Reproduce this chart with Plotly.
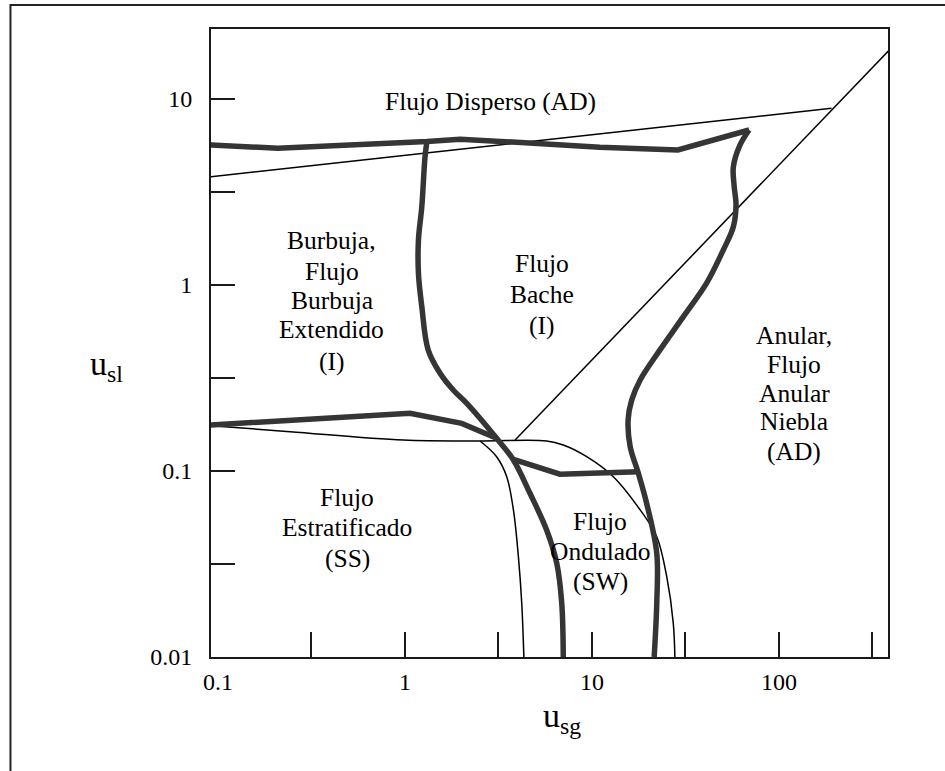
import numpy as np
import plotly.graph_objects as go

# ---------------- data (u_sg, u_sl) ----------------
# thick boundaries
top_x = [0.0914, 0.209, 1.31, 1.97, 3.96, 11.0, 28.8, 69.2]
top_y = [5.64, 5.42, 5.88, 6.05, 5.83, 5.48, 5.30, 6.79]

annular_x = [69.2, 61.9, 57.0, 57.5, 58.9, 57.0, 50.4, 41.0, 30.8, 23.1, 18.1,
             16.3, 15.6, 16.0, 17.7, 19.6, 22.2, 22.2, 21.5]
annular_y = [6.79, 5.64, 4.30, 3.43, 2.685, 2.05, 1.54, 1.02, 0.674, 0.447, 0.308,
             0.240, 0.188, 0.135, 0.0971, 0.0670, 0.0361, 0.01945, 0.01]

bubble_x = [1.31, 1.28, 1.23, 1.18, 1.18, 1.23, 1.33, 1.54, 1.81, 2.14, 3.09,
            3.80, 4.66, 5.72, 6.48, 6.89, 7.02]
bubble_y = [5.88, 4.88, 2.63, 1.74, 1.153, 0.763, 0.447, 0.3345, 0.272, 0.2307,
            0.1497, 0.1145, 0.0758, 0.0481, 0.0319, 0.01945, 0.01]

wavy_x = [3.80, 6.74, 17.7]
wavy_y = [0.1154, 0.0960, 0.0991]

strat_x = [0.0914, 1.063, 2.01, 3.09]
strat_y = [0.1765, 0.204, 0.180, 0.1497]

# thin boundaries
thin1_x = [0.0818, 0.2427, 0.979, 2.52, 5.72, 7.02, 9.37, 13.0, 18.1, 22.2, 25.1, 27.2, 27.8]
thin1_y = [0.1765, 0.1625, 0.1466, 0.1448, 0.1448, 0.1377, 0.1192, 0.0931, 0.0617,
           0.0443, 0.0270, 0.0152, 0.00925]

thin2_x = [2.52, 3.09, 3.50, 3.80, 4.04, 4.21, 4.33]
thin2_y = [0.1448, 0.1192, 0.0931, 0.0617, 0.0346, 0.01945, 0.00944]

diag_x = [3.88, 392.0]
diag_y = [0.1466, 18.4]

upper_x = [0.0914, 191.0]
upper_y = [3.81, 8.88]

# region labels: text, u_sg, u_sl
label_text = ["Flujo Disperso (AD)",
              "Burbuja,", "Flujo", "Burbuja", "Extendido", "(I)",
              "Flujo", "Bache", "(I)",
              "Anular,", "Flujo", "Anular", "Niebla", "(AD)",
              "Flujo", "Estratificado", "(SS)",
              "Flujo", "Ondulado", "(SW)"]
label_x = [2.85,
           0.4055, 0.4055, 0.4055, 0.4055, 0.4055,
           5.38, 5.38, 5.38,
           121.0, 121.0, 121.0, 121.0, 121.0,
           0.490, 0.490, 0.490,
           11.1, 11.1, 11.1]
label_y = [9.63,
           1.732, 1.186, 0.826, 0.574, 0.3895,
           1.305, 0.892, 0.608,
           0.537, 0.3753, 0.2612, 0.1838, 0.1268,
           0.0721, 0.04952, 0.0339,
           0.0533, 0.0368, 0.0254]

# axis ticks
x_tick_marks = [0.3162, 1, 3.162, 10, 31.62, 100, 316.2]
x_label_vals = [0.1, 1, 10, 100]
x_label_text = ["0.1", "1", "10", "100"]
y_label_vals = [10, 1, 0.1, 0.01]
y_label_text = ["10", "1", "0.1", "0.01"]
y_half_marks = [3.162, 0.3162, 0.03162]

# ---------------- figure ----------------
SERIF = "Liberation Serif"
THICK = "#353535"
AXC = "#1a1a1a"

fig = go.Figure()


def add_line(x, y, width, color, shape="linear"):
    fig.add_trace(go.Scatter(x=x, y=y, mode="lines",
                             line=dict(color=color, width=width, shape=shape, smoothing=1),
                             cliponaxis=False, showlegend=False, hoverinfo="skip"))


add_line(upper_x, upper_y, 1.5, "black")
add_line(diag_x, diag_y, 1.5, "black")
add_line(thin1_x, thin1_y, 1.5, "black", "spline")
add_line(thin2_x, thin2_y, 1.5, "black", "spline")
add_line(top_x, top_y, 5.5, THICK)
add_line(annular_x, annular_y, 5.5, THICK, "spline")
add_line(bubble_x, bubble_y, 5.5, THICK, "spline")
add_line(wavy_x, wavy_y, 5.5, THICK)
add_line(strat_x, strat_y, 5.5, THICK)
# empty trace carrying the labelled x axis
fig.add_trace(go.Scatter(x=[], y=[], xaxis="x2", showlegend=False))

xr = [-1.0374, 2.5829]
yr = [-2.0, 1.3745]

fig.update_layout(
    width=945, height=771,
    margin=dict(l=211, r=57, t=29, b=114),
    paper_bgcolor="white", plot_bgcolor="white",
    font=dict(family=SERIF, color="black"),
    xaxis=dict(type="log", range=xr, showgrid=False, zeroline=False,
               showline=True, mirror=True, linecolor=AXC, linewidth=2,
               ticks="inside", ticklen=25, tickwidth=1.6, tickcolor=AXC,
               tickmode="array", tickvals=x_tick_marks, showticklabels=False),
    xaxis2=dict(type="log", range=xr, overlaying="x", anchor="y", side="bottom",
                showgrid=False, zeroline=False, showline=False, ticks="",
                tickmode="array", tickvals=x_label_vals, ticktext=x_label_text,
                tickfont=dict(family=SERIF, size=24, color="black"),
                ticklabelstandoff=8),
    yaxis=dict(type="log", range=yr, showgrid=False, zeroline=False,
               showline=True, mirror=True, linecolor=AXC, linewidth=2,
               ticks="inside", ticklen=24, tickwidth=1.6, tickcolor=AXC,
               tickmode="array", tickvals=y_label_vals, ticktext=y_label_text,
               tickfont=dict(family=SERIF, size=24, color="black"),
               ticklabelstandoff=12,
               minor=dict(tickmode="array", tickvals=y_half_marks, ticks="inside",
                          ticklen=24, tickwidth=1.6, tickcolor=AXC, showgrid=False)),
)

for t, xv, yv in zip(label_text, label_x, label_y):
    fig.add_annotation(x=np.log10(xv), y=np.log10(yv), xref="x", yref="y",
                       text=t, showarrow=False, xanchor="center", yanchor="middle",
                       font=dict(family=SERIF, size=25.5, color="black"))

# axis titles
fig.add_annotation(x=-0.1547, y=0.4634, xref="paper", yref="paper",
                   text="u<sub>sl</sub>", showarrow=False,
                   xanchor="center", yanchor="middle",
                   font=dict(family=SERIF, size=34, color="black"))
fig.add_annotation(x=0.518, y=-0.0971, xref="paper", yref="paper",
                   text="u<sub>sg</sub>", showarrow=False,
                   xanchor="center", yanchor="middle",
                   font=dict(family=SERIF, size=34, color="black"))

# outer frame of the figure (open to the right and bottom)
fig.add_shape(type="rect", xref="paper", yref="paper",
              x0=-0.2962, x1=1.3, y0=-0.4, y1=1.0382,
              line=dict(color="#222222", width=2), layer="below")

# remove the default page margin so the figure sits at the window origin
fig.write_html("out.html", config={"displayModeBar": False},
               post_script="document.body.style.margin='0';")
